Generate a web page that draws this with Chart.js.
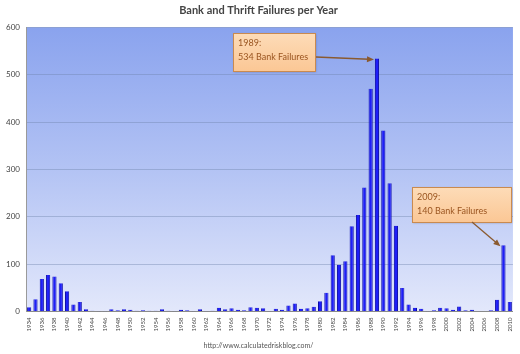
<!DOCTYPE html>
<html>
<head>
<meta charset="utf-8">
<script src="https://cdn.jsdelivr.net/npm/chart.js@4/dist/chart.umd.min.js"></script>
<style>
  html, body { margin: 0; padding: 0; background: #fff; }
  #wrap { width: 520px; height: 354px; }
</style>
</head>
<body>
<div id="wrap"><canvas id="failChart"></canvas></div>
<script>
// Данные
const years = [];
for (let y = 1934; y <= 2010; y++) years.push(String(y));

const failures = [
    9, 26, 69, 77, 74, 60, 43, 15, 20, 5,
    2, 1, 1, 5, 3, 5, 4, 2, 3, 2,
    2, 5, 2, 1, 4, 3, 1, 5, 1, 2,
    8, 5, 7, 4, 3, 9, 8, 7, 1, 6,
    4, 13, 17, 6, 7, 10, 22, 40, 119, 99,
    106, 180, 204, 262, 470, 534, 382, 271, 181, 50,
    15, 8, 6, 1, 3, 8, 7, 4, 11, 3,
    4, 0, 0, 3, 25, 140, 20
];

const yTicks = [0, 100, 200, 300, 400, 500, 600];

// Выноски: год, текст, положение рамки и начало стрелки
const notes = [
    { year: '1989', lines: ['1989:', '534 Bank Failures'], box: [233, 33, 82, 38], from: [316, 57] },
    { year: '2009', lines: ['2009:', '140 Bank Failures'], box: [412, 187, 99, 35], from: [472, 222] }
];

// Фон области графика
const bgPlugin = {
    id: 'plotBg',
    beforeDraw(chart) {
        const { ctx, chartArea: a } = chart;
        const g = ctx.createLinearGradient(0, a.top, 0, a.bottom);
        g.addColorStop(0, '#8aa3ee');
        g.addColorStop(0.5, '#b3c3f4');
        g.addColorStop(1, '#e3e8fb');
        ctx.save();
        ctx.fillStyle = g;
        ctx.fillRect(a.left, a.top, a.right - a.left, a.bottom - a.top);
        ctx.restore();
    }
};

// Рамки с подписями и стрелки
const notesPlugin = {
    id: 'notes',
    afterDatasetsDraw(chart) {
        const { ctx, scales } = chart;
        ctx.save();
        notes.forEach(n => {
            const idx = years.indexOf(n.year);
            const tx = scales.x.getPixelForValue(idx) - 3;
            const ty = scales.y.getPixelForValue(failures[idx]) + 1;
            const [bx, by, bw, bh] = n.box;

            // рамка
            const g = ctx.createLinearGradient(0, by, 0, by + bh);
            g.addColorStop(0, '#fddcb8');
            g.addColorStop(1, '#fbc795');
            ctx.fillStyle = g;
            ctx.shadowColor = 'rgba(0,0,0,0.25)';
            ctx.shadowOffsetX = 1;
            ctx.shadowOffsetY = 1;
            ctx.shadowBlur = 2;
            ctx.fillRect(bx, by, bw, bh);
            ctx.shadowColor = 'transparent';
            ctx.strokeStyle = '#c98a50';
            ctx.lineWidth = 1;
            ctx.strokeRect(bx + 0.5, by + 0.5, bw, bh);

            ctx.fillStyle = '#9a5520';
            ctx.font = '9px Lato, "Open Sans", sans-serif';
            ctx.textBaseline = 'middle';
            ctx.textAlign = 'left';
            ctx.fillText(n.lines[0], bx + 5, by + 10);
            ctx.fillText(n.lines[1], bx + 5, by + 24);

            // стрелка
            const [fx, fy] = n.from;
            const ang = Math.atan2(ty - fy, tx - fx);
            ctx.strokeStyle = '#8a5a30';
            ctx.fillStyle = '#8a5a30';
            ctx.lineWidth = 1.3;
            ctx.beginPath();
            ctx.moveTo(fx, fy);
            ctx.lineTo(tx - 5 * Math.cos(ang), ty - 5 * Math.sin(ang));
            ctx.stroke();
            ctx.beginPath();
            ctx.moveTo(tx, ty);
            ctx.lineTo(tx - 7 * Math.cos(ang) + 3 * Math.sin(ang), ty - 7 * Math.sin(ang) - 3 * Math.cos(ang));
            ctx.lineTo(tx - 7 * Math.cos(ang) - 3 * Math.sin(ang), ty - 7 * Math.sin(ang) + 3 * Math.cos(ang));
            ctx.closePath();
            ctx.fill();
        });
        ctx.restore();
    }
};

new Chart(document.getElementById('failChart'), {
    type: 'bar',
    data: {
        labels: years,
        datasets: [{
            label: 'Bank and Thrift Failures',
            data: failures,
            backgroundColor: '#1e1ef8',
            borderColor: '#0c0ca8',
            borderWidth: { left: 1, right: 1, top: 0, bottom: 0 },
            barPercentage: 0.66,
            categoryPercentage: 1.0
        }]
    },
    options: {
        responsive: true,
        maintainAspectRatio: false,
        animation: false,
        layout: { padding: { left: 0, right: 3, top: 0, bottom: 0 } },
        scales: {
            x: {
                grid: { display: false, drawTicks: true, tickLength: 3, color: '#888' },
                border: { color: '#8a8a8a' },
                afterFit(scale) { scale.height = 28; },
                ticks: {
                    autoSkip: false,
                    minRotation: 90,
                    maxRotation: 90,
                    padding: 3,
                    color: '#444',
                    font: { size: 6, family: 'Lato, "Open Sans", sans-serif' },
                    callback(value, index) {
                        return index % 2 === 0 ? years[index] : '';
                    }
                }
            },
            y: {
                min: 0,
                max: 600,
                afterFit(scale) { scale.width = 26; },
                afterBuildTicks(scale) { scale.ticks = yTicks.map(v => ({ value: v })); },
                grid: { color: 'rgba(110,130,170,0.4)', drawTicks: false },
                border: { display: true, color: '#9a9a9a' },
                ticks: {
                    padding: 6,
                    color: '#444',
                    font: { size: 8, family: 'Lato, "Open Sans", sans-serif' }
                }
            }
        },
        plugins: {
            legend: { display: false },
            tooltip: { enabled: false },
            title: {
                display: true,
                text: 'Bank and Thrift Failures per Year',
                color: '#444',
                font: { size: 11, weight: 'bold', family: 'Lato, "Open Sans", sans-serif' },
                padding: { top: 4, bottom: 10 }
            },
            subtitle: {
                display: true,
                position: 'bottom',
                text: 'http://www.calculatedriskblog.com/',
                color: '#555',
                font: { size: 7, family: 'Lato, "Open Sans", sans-serif' },
                padding: { top: 2, bottom: 4 }
            }
        }
    },
    plugins: [bgPlugin, notesPlugin]
});
</script>
</body>
</html>
